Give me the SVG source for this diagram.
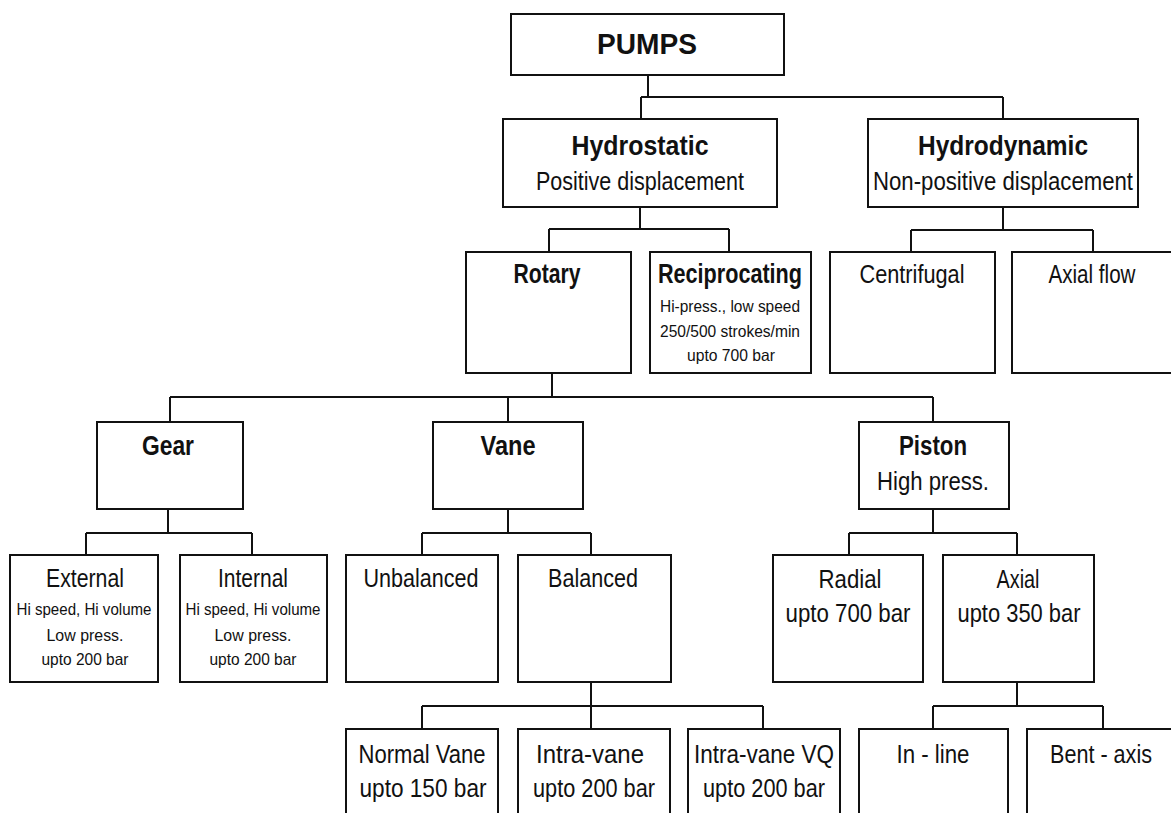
<svg xmlns="http://www.w3.org/2000/svg" width="1171" height="813" viewBox="0 0 1171 813">
<style>
rect.box{fill:#fff;stroke:#111;stroke-width:2}
#connectors path{fill:none;stroke:#111;stroke-width:2}
text{font-family:"Liberation Sans",Arial,sans-serif;fill:#111;text-anchor:middle}
.b{font-weight:bold;font-size:27px}
.n{font-size:25px}
.s{font-size:16.5px}
</style>
<rect width="1171" height="813" fill="#fff"/>
<g id="connectors">
<path d="M648 75V97M641 97H1003M641 97V119M1003 97V119"/>
<path d="M640 207V229M549 229H729M549 229V252M729 229V252"/>
<path d="M1003 207V230M911 230H1093M911 230V252M1093 230V252"/>
<path d="M552 373V397M170 397H933M170 397V422M508 397V422M933 397V422"/>
<path d="M168 509V533M86 533H252M86 533V555M252 533V555"/>
<path d="M508 509V533M422 533H591M422 533V555M591 533V555"/>
<path d="M933 509V533M849 533H1017M849 533V555M1017 533V555"/>
<path d="M591 682V706M422 706H763M422 706V729M591 706V729M763 706V729"/>
<path d="M1017 682V706M933 706H1103M933 706V729M1103 706V729"/>
</g>
<g id="pumps"><rect class="box" x="511" y="14" width="273" height="61"/><text class="b" x="647" y="54" textLength="100" lengthAdjust="spacingAndGlyphs" style="font-size:29px">PUMPS</text></g>
<g id="hydrostatic"><rect class="box" x="503" y="119" width="274" height="88"/><text class="b" x="640" y="155" textLength="137" lengthAdjust="spacingAndGlyphs">Hydrostatic</text><text class="n" x="640" y="190" textLength="208" lengthAdjust="spacingAndGlyphs">Positive displacement</text></g>
<g id="hydrodynamic"><rect class="box" x="868" y="119" width="270" height="88"/><text class="b" x="1003" y="155" textLength="170" lengthAdjust="spacingAndGlyphs">Hydrodynamic</text><text class="n" x="1003" y="190" textLength="260" lengthAdjust="spacingAndGlyphs">Non-positive displacement</text></g>
<g id="rotary"><rect class="box" x="466" y="252" width="165" height="121"/><text class="b" x="547" y="283" textLength="67" lengthAdjust="spacingAndGlyphs">Rotary</text></g>
<g id="reciprocating"><rect class="box" x="650" y="252" width="161" height="121"/><text class="b" x="730" y="283" textLength="144" lengthAdjust="spacingAndGlyphs">Reciprocating</text><text class="s" x="730" y="312" textLength="140" lengthAdjust="spacingAndGlyphs">Hi-press., low speed</text><text class="s" x="730" y="337" textLength="140" lengthAdjust="spacingAndGlyphs">250/500 strokes/min</text><text class="s" x="731" y="361" textLength="88" lengthAdjust="spacingAndGlyphs">upto 700 bar</text></g>
<g id="centrifugal"><rect class="box" x="830" y="252" width="165" height="121"/><text class="n" x="912" y="283" textLength="105" lengthAdjust="spacingAndGlyphs">Centrifugal</text></g>
<g id="axialflow"><rect class="box" x="1012" y="252" width="200" height="121"/><text class="n" x="1092" y="283" textLength="87" lengthAdjust="spacingAndGlyphs">Axial flow</text></g>
<g id="gear"><rect class="box" x="97" y="422" width="146" height="87"/><text class="b" x="168" y="455" textLength="52" lengthAdjust="spacingAndGlyphs">Gear</text></g>
<g id="vane"><rect class="box" x="433" y="422" width="150" height="87"/><text class="b" x="508" y="455" textLength="55" lengthAdjust="spacingAndGlyphs">Vane</text></g>
<g id="piston"><rect class="box" x="859" y="422" width="150" height="87"/><text class="b" x="933" y="455" textLength="68" lengthAdjust="spacingAndGlyphs">Piston</text><text class="n" x="933" y="490" textLength="112" lengthAdjust="spacingAndGlyphs">High press.</text></g>
<g id="external"><rect class="box" x="10" y="555" width="148" height="127"/><text class="n" x="85" y="587" textLength="78" lengthAdjust="spacingAndGlyphs">External</text><text class="s" x="84" y="615" textLength="135" lengthAdjust="spacingAndGlyphs">Hi speed, Hi volume</text><text class="s" x="85" y="641" textLength="77" lengthAdjust="spacingAndGlyphs">Low press.</text><text class="s" x="85" y="665" textLength="87" lengthAdjust="spacingAndGlyphs">upto 200 bar</text></g>
<g id="internal"><rect class="box" x="180" y="555" width="147" height="127"/><text class="n" x="253" y="587" textLength="70" lengthAdjust="spacingAndGlyphs">Internal</text><text class="s" x="253" y="615" textLength="135" lengthAdjust="spacingAndGlyphs">Hi speed, Hi volume</text><text class="s" x="253" y="641" textLength="77" lengthAdjust="spacingAndGlyphs">Low press.</text><text class="s" x="253" y="665" textLength="87" lengthAdjust="spacingAndGlyphs">upto 200 bar</text></g>
<g id="unbalanced"><rect class="box" x="346" y="555" width="152" height="127"/><text class="n" x="421" y="587" textLength="115" lengthAdjust="spacingAndGlyphs">Unbalanced</text></g>
<g id="balanced"><rect class="box" x="518" y="555" width="153" height="127"/><text class="n" x="593" y="587" textLength="90" lengthAdjust="spacingAndGlyphs">Balanced</text></g>
<g id="radial"><rect class="box" x="773" y="555" width="150" height="127"/><text class="n" x="850" y="588" textLength="63" lengthAdjust="spacingAndGlyphs">Radial</text><text class="n" x="848" y="622" textLength="125" lengthAdjust="spacingAndGlyphs">upto 700 bar</text></g>
<g id="axial"><rect class="box" x="943" y="555" width="151" height="127"/><text class="n" x="1018" y="588" textLength="43" lengthAdjust="spacingAndGlyphs">Axial</text><text class="n" x="1019" y="622" textLength="123" lengthAdjust="spacingAndGlyphs">upto 350 bar</text></g>
<g id="normalvane"><rect class="box" x="346" y="729" width="152" height="120"/><text class="n" x="422" y="763" textLength="127" lengthAdjust="spacingAndGlyphs">Normal Vane</text><text class="n" x="423" y="797" textLength="127" lengthAdjust="spacingAndGlyphs">upto 150 bar</text></g>
<g id="intravane"><rect class="box" x="518" y="729" width="152" height="120"/><text class="n" x="590" y="763" textLength="108" lengthAdjust="spacingAndGlyphs">Intra-vane</text><text class="n" x="594" y="797" textLength="122" lengthAdjust="spacingAndGlyphs">upto 200 bar</text></g>
<g id="intravanevq"><rect class="box" x="688" y="729" width="152" height="120"/><text class="n" x="764" y="763" textLength="140" lengthAdjust="spacingAndGlyphs">Intra-vane VQ</text><text class="n" x="764" y="797" textLength="122" lengthAdjust="spacingAndGlyphs">upto 200 bar</text></g>
<g id="inline"><rect class="box" x="859" y="729" width="149" height="120"/><text class="n" x="933" y="763" textLength="73" lengthAdjust="spacingAndGlyphs">In - line</text></g>
<g id="bentaxis"><rect class="box" x="1027" y="729" width="200" height="120"/><text class="n" x="1101" y="763" textLength="102" lengthAdjust="spacingAndGlyphs">Bent - axis</text></g>
</svg>
